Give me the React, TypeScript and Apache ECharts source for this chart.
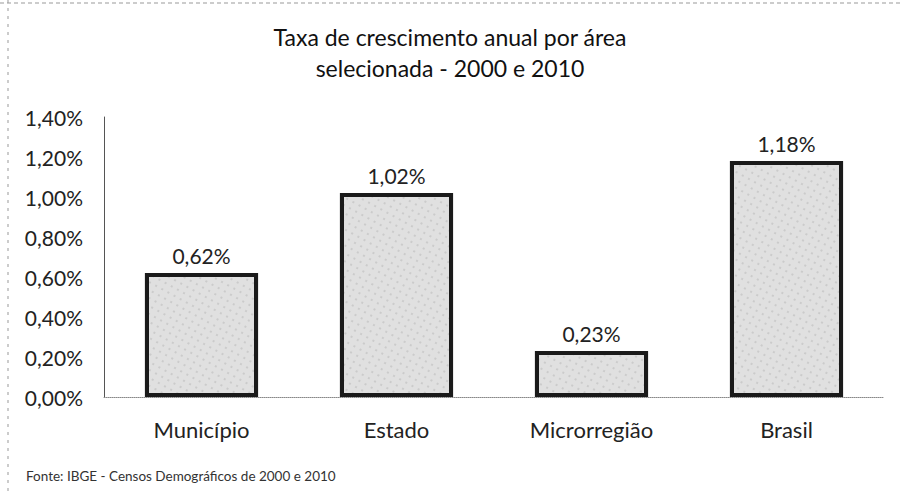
import React, { useEffect, useRef } from "react";
import * as echarts from "echarts";

const categories = ["Município", "Estado", "Microrregião", "Brasil"];
const values = [0.62, 1.02, 0.23, 1.18];
const titleLines = ["Taxa de crescimento anual por área", "selecionada - 2000 e 2010"];
const sourceNote = "Fonte: IBGE - Censos Demográficos de 2000 e 2010";

const fmt = (v: number) => v.toFixed(2).replace(".", ",") + "%";

export default function App() {
  const ref = useRef<HTMLDivElement>(null);
  useEffect(() => {
    if (!ref.current) return;
    const chart = echarts.init(ref.current, undefined, { renderer: "svg" });
    const font = "Lato, 'Open Sans', sans-serif";
    chart.setOption({
      animation: false,
      backgroundColor: "#ffffff",
      title: {
        text: titleLines.join("\n"),
        left: "center",
        top: 16,
        textStyle: { fontFamily: font, fontSize: 23, fontWeight: "normal", color: "#111", lineHeight: 31 },
      },
      grid: { left: 104, right: 16, top: 117, bottom: 97, containLabel: false },
      xAxis: {
        type: "category",
        data: categories,
        axisLine: { show: true, lineStyle: { color: "#888", type: "dotted", width: 1 } },
        axisTick: { show: false },
        axisLabel: { fontFamily: font, fontSize: 22, color: "#222", margin: 21 },
      },
      yAxis: {
        type: "value",
        min: 0,
        max: 1.4,
        interval: 0.2,
        splitLine: { show: false },
        axisLine: { show: true, lineStyle: { color: "#555", width: 1 } },
        axisTick: { show: false },
        axisLabel: { fontFamily: font, fontSize: 21, color: "#222", margin: 21, formatter: (v: number) => fmt(v) },
      },
      series: [
        {
          type: "bar",
          data: values,
          barWidth: "58%",
          itemStyle: {
            color: "#e0e0e0",
            borderColor: "#1a1a1a",
            borderWidth: 4,
            decal: {
              symbol: "circle",
              symbolSize: 0.7,
              color: "rgba(70,70,70,0.35)",
              dashArrayX: [2, 5],
              dashArrayY: [2, 5],
              rotation: 0.5,
            },
          },
          label: {
            show: true,
            position: "top",
            distance: 7,
            fontFamily: font,
            fontSize: 21,
            color: "#222",
            formatter: (p: any) => fmt(p.value),
          },
        },
      ],
      graphic: [
        {
          type: "text",
          left: 26,
          top: 469,
          style: { text: sourceNote, fontFamily: font, fontSize: 13.5, fill: "#333" },
        },
        {
          type: "line",
          shape: { x1: 0, y1: 3, x2: 900, y2: 3 },
          style: { stroke: "#999", lineWidth: 1, lineDash: [4, 3] },
        },
        {
          type: "line",
          shape: { x1: 8, y1: 0, x2: 8, y2: 494 },
          style: { stroke: "#999", lineWidth: 1, lineDash: [3, 5] },
        },
      ],
    });
    return () => chart.dispose();
  }, []);
  return <div ref={ref} style={{ position: "absolute", left: 0, top: 0, width: 900, height: 494 }} />;
}
